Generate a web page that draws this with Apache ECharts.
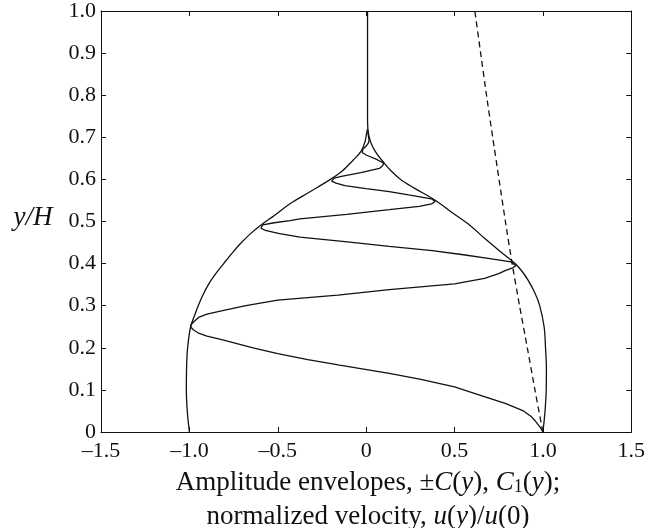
<!DOCTYPE html>
<html>
<head>
<meta charset="utf-8">
<script src="https://cdn.jsdelivr.net/npm/echarts@6/dist/echarts.min.js"></script>
<style>
  html, body { margin: 0; padding: 0; background: #fff; }
  #chart { width: 648px; height: 528px; }
</style>
</head>
<body>
<div id="chart"></div>
<script>
// tick labels
var xTickLabels = ['\u20131.5', '\u20131.0', '\u20130.5', '0', '0.5', '1.0', '1.5']
var yTickLabels = ['0', '0.1', '0.2', '0.3', '0.4', '0.5', '0.6', '0.7', '0.8', '0.9', '1.0']

// envelope +C(y), right side (continues as the vertical line up to the top)
var envRightY = [0, 0.03, 0.06, 0.1, 0.15, 0.2, 0.25, 0.3, 0.33, 0.36, 0.38, 0.4, 0.43, 0.46, 0.49, 0.52, 0.55, 0.58, 0.6, 0.62, 0.64, 0.66, 0.68, 0.7, 0.72, 0.75, 1.0]
var envRightX = [1.0, 1.008, 1.014, 1.019, 1.02, 1.015, 1.007, 0.982, 0.955, 0.917, 0.885, 0.843, 0.755, 0.67, 0.59, 0.49, 0.393, 0.27, 0.195, 0.142, 0.10, 0.062, 0.034, 0.018, 0.01, 0.008, 0.008]

// envelope -C(y), left side
var envLeftY = [0, 0.05, 0.1, 0.15, 0.2, 0.25, 0.273, 0.3, 0.325, 0.352, 0.376, 0.4, 0.425, 0.447, 0.47, 0.49, 0.515, 0.542, 0.57, 0.6, 0.62, 0.645, 0.667, 0.69, 0.708, 0.72]
var envLeftX = [-1.0, -1.012, -1.017, -1.016, -1.01, -0.993, -0.974, -0.95, -0.924, -0.89, -0.851, -0.806, -0.758, -0.712, -0.657, -0.6, -0.517, -0.431, -0.32, -0.202, -0.135, -0.075, -0.028, -0.006, 0.002, 0.008]

// C1(y)
var c1Y = [0, 0.008, 0.018, 0.028, 0.036, 0.05, 0.068, 0.085, 0.107, 0.125, 0.139, 0.159, 0.172, 0.186, 0.2, 0.218, 0.228, 0.234, 0.243, 0.25, 0.256, 0.262, 0.273, 0.28, 0.289, 0.3, 0.313, 0.325, 0.338, 0.352, 0.365, 0.376, 0.384, 0.389, 0.395, 0.399, 0.404, 0.412, 0.421, 0.431, 0.441, 0.452, 0.463, 0.467, 0.471, 0.479, 0.484, 0.488, 0.492, 0.497, 0.502, 0.506, 0.517, 0.528, 0.536, 0.542, 0.547, 0.55, 0.553, 0.556, 0.563, 0.571, 0.578, 0.585, 0.591, 0.596, 0.6, 0.603, 0.607, 0.616, 0.626, 0.632, 0.636, 0.638, 0.642, 0.648, 0.658, 0.664, 0.667, 0.672, 0.68, 0.688, 0.696, 0.705, 0.715]
var c1X = [1.0, 0.99, 0.972, 0.953, 0.936, 0.89, 0.787, 0.66, 0.50, 0.31, 0.131, -0.15, -0.33, -0.50, -0.64, -0.806, -0.90, -0.945, -0.978, -0.993, -0.988, -0.975, -0.945, -0.9, -0.806, -0.68, -0.50, -0.16, 0.131, 0.50, 0.67, 0.75, 0.79, 0.825, 0.848, 0.84, 0.82, 0.70, 0.55, 0.374, 0.131, -0.12, -0.375, -0.431, -0.49, -0.57, -0.595, -0.603, -0.585, -0.52, -0.431, -0.375, -0.11, 0.131, 0.30, 0.37, 0.39, 0.395, 0.375, 0.337, 0.24, 0.131, 0.0, -0.12, -0.17, -0.195, -0.202, -0.18, -0.14, -0.03, 0.075, 0.092, 0.099, 0.101, 0.085, 0.056, 0.0, -0.022, -0.028, -0.018, 0.002, 0.015, 0.016, 0.012, 0.009]

// normalized velocity u(y)/u(0), dashed
var velY = [0, 0.1, 0.2, 0.3, 0.4, 0.5, 0.6, 0.7, 0.8, 0.9, 1.0]
var velX = [1.0, 0.955, 0.912, 0.868, 0.826, 0.788, 0.752, 0.716, 0.681, 0.648, 0.615]

function pairs(xs, ys) {
  return xs.map(function(x, i) { return [x, ys[i]] })
}

var serif = '"Liberation Serif", "DejaVu Serif", serif'
var ink = '#111'

var chart = echarts.init(document.getElementById('chart'))

var baseX = {
  type: 'value',
  min: -1.5,
  max: 1.5,
  interval: 0.5,
  axisLine: { show: true, onZero: false, lineStyle: { color: ink, width: 1 } },
  axisTick: { show: true, inside: true, length: 5, lineStyle: { color: ink } },
  splitLine: { show: false }
}
var baseY = {
  type: 'value',
  min: 0,
  max: 1,
  interval: 0.1,
  axisLine: { show: true, onZero: false, lineStyle: { color: ink, width: 1 } },
  axisTick: { show: true, inside: true, length: 5, lineStyle: { color: ink } },
  splitLine: { show: false }
}

var option = {
  animation: false,
  backgroundColor: '#fff',
  grid: { left: 101, right: 15, top: 11, bottom: 96 },
  xAxis: [
    Object.assign({}, baseX, {
      position: 'bottom',
      axisLabel: {
        margin: 8,
        fontSize: 22,
        fontFamily: serif,
        color: ink,
        formatter: function(v) { return xTickLabels[Math.round((v + 1.5) / 0.5)] }
      }
    }),
    Object.assign({}, baseX, { position: 'top', axisLabel: { show: false } })
  ],
  yAxis: [
    Object.assign({}, baseY, {
      position: 'left',
      axisLabel: {
        margin: 5,
        fontSize: 22,
        fontFamily: serif,
        color: ink,
        formatter: function(v) { return yTickLabels[Math.round(v * 10)] }
      }
    }),
    Object.assign({}, baseY, { position: 'right', axisLabel: { show: false } })
  ],
  series: [
    {
      name: 'C right',
      type: 'line',
      showSymbol: false,
      smooth: 0.35,
      lineStyle: { color: ink, width: 1.3 },
      data: pairs(envRightX, envRightY)
    },
    {
      name: 'C left',
      type: 'line',
      showSymbol: false,
      smooth: 0.35,
      lineStyle: { color: ink, width: 1.3 },
      data: pairs(envLeftX, envLeftY)
    },
    {
      name: 'C1',
      type: 'line',
      showSymbol: false,
      lineStyle: { color: ink, width: 1.3 },
      data: pairs(c1X, c1Y)
    },
    {
      name: 'u',
      type: 'line',
      showSymbol: false,
      smooth: 0.2,
      lineStyle: { color: ink, width: 1.3, type: [6, 4] },
      data: pairs(velX, velY)
    }
  ],
  graphic: [
    {
      type: 'text',
      x: 33,
      y: 218,
      style: {
        text: 'y/H',
        font: 'italic 27px ' + serif,
        fill: ink,
        align: 'center',
        verticalAlign: 'middle'
      }
    },
    {
      type: 'text',
      x: 368,
      y: 483,
      style: {
        text: '{n|Amplitude envelopes, \u00b1}{i|C}{n|(}{i|y}{n|), }{i|C}{s|1}{n|(}{i|y}{n|);}',
        fill: ink,
        align: 'center',
        verticalAlign: 'middle',
        rich: {
          n: { fontFamily: serif, fontSize: 27, fill: ink },
          i: { fontFamily: serif, fontSize: 27, fontStyle: 'italic', fill: ink },
          s: { fontFamily: serif, fontSize: 18, fill: ink, verticalAlign: 'bottom' }
        }
      }
    },
    {
      type: 'text',
      x: 368,
      y: 517,
      style: {
        text: '{n|normalized velocity, }{i|u}{n|(}{i|y}{n|)/}{i|u}{n|(0)}',
        fill: ink,
        align: 'center',
        verticalAlign: 'middle',
        rich: {
          n: { fontFamily: serif, fontSize: 27, fill: ink },
          i: { fontFamily: serif, fontSize: 27, fontStyle: 'italic', fill: ink }
        }
      }
    }
  ]
}

chart.setOption(option)
</script>
</body>
</html>
